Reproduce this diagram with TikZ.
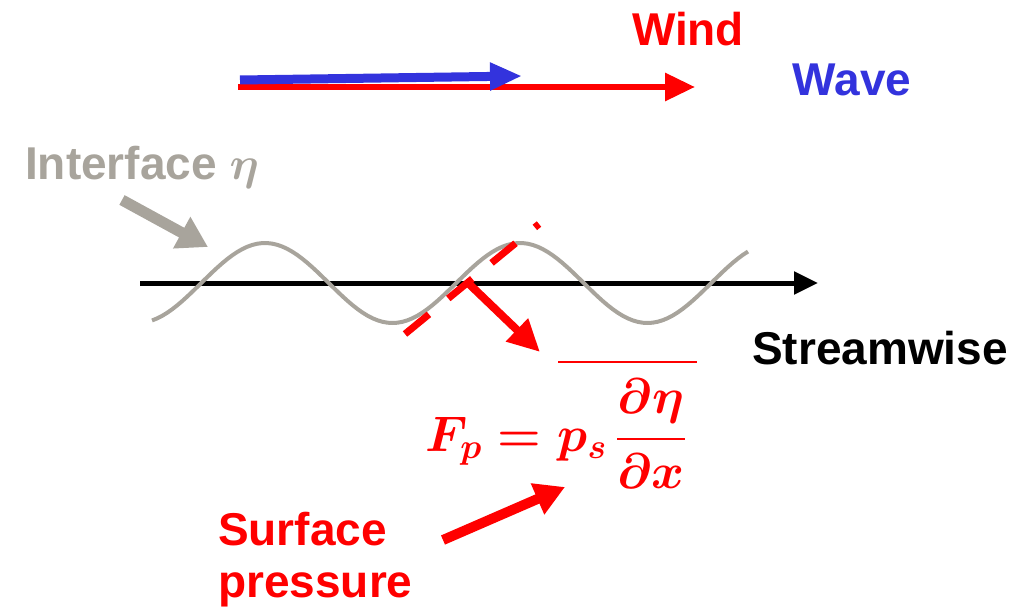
\RequirePackage{fix-cm}
\documentclass[tikz,border=0pt]{standalone}
\usepackage{amsmath, amssymb}
\usepackage{fontspec}
\setmainfont{Liberation Sans}
\usetikzlibrary{arrows.meta}

\definecolor{windred}{RGB}{255,0,0}
\definecolor{waveblue}{RGB}{51,51,221}
\definecolor{ifacegray}{RGB}{168,164,156}

\tikzset{
  big label/.style={font=\fontsize{46}{52}\selectfont\bfseries, inner sep=0pt},
}

\begin{document}
\begin{tikzpicture}[x=1pt,y=-1pt]
        \useasboundingbox (0,0) rectangle (1031,610);

        % Wind and wave direction
        \coordinate (windS) at (238,87);
        \coordinate (windE) at (695,87);
        \coordinate (waveS) at (240,80);
        \coordinate (waveE) at (522,76);
        \draw[windred, line width=6pt, -{Triangle[length=30pt,width=27pt]}] (windS) -- (windE);
        \draw[waveblue, line width=9pt, -{Triangle[length=32pt,width=26pt]}] (waveS) -- (waveE);
        \node[big label, text=windred] (wind) at (688,29) {Wind};
        \node[big label, text=waveblue] (wave) at (852,80) {Wave};

        % Streamwise axis
        \coordinate (axS) at (140,283);
        \coordinate (axE) at (818,283);
        \draw[line width=5pt, -{Triangle[length=24pt,width=22pt]}] (axS) -- (axE);
        \node[big label, anchor=west] (stream) at (752,348) {Streamwise};

        % Interface
        \draw[ifacegray, line width=4pt, variable=\t, domain=152:748, samples=120] plot ({\t},{283-40*cos(1.41176*(\t-265))});
        \node[big label, text=ifacegray, anchor=west] (iface) at (25,167) {Interface $\boldsymbol{\eta}$};
        \coordinate (ifaceA) at (122,200);
        \coordinate (ifaceB) at (208,247);
        \draw[ifacegray, line width=11pt, -{Triangle[length=30pt,width=34pt]}] (ifaceA) -- (ifaceB);

        % Tangent and normal force
        \coordinate (tanS) at (405,334);
        \coordinate (tanE) at (539,224);
        \draw[windred, line width=7pt, dash pattern=on 31pt off 25pt] (tanS) -- (tanE);
        \coordinate (normS) at (466,281);
        \coordinate (normE) at (540,352);
        \draw[windred, line width=8pt, -{Triangle[length=32pt,width=30pt]}] (normS) -- (normE);

        % Formula
        \draw[windred, line width=2pt] (558,362) -- (697,362);
        \node[text=windred, inner sep=0pt, font=\fontsize{50}{56}\selectfont\boldmath] (force) at (556,434)
          {$\displaystyle F_p = p_s\,\frac{\partial\eta}{\partial x}$};

        % Surface pressure
        \node[big label, text=windred, anchor=north west, align=left] (press) at (218,512)
          {Surface\\pressure};
        \coordinate (pressA) at (443,540);
        \coordinate (pressB) at (565,487);
        \draw[windred, line width=10pt, -{Triangle[length=30pt,width=32pt]}] (pressA) -- (pressB);
      \end{tikzpicture}
\end{document}
